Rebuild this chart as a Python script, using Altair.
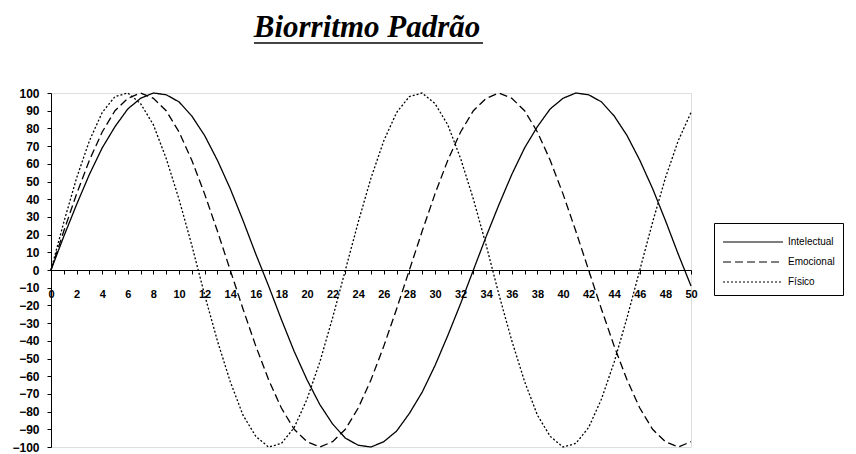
import altair as alt
import pandas as pd

days = list(range(51))
series_names = ["Intelectual", "Emocional", "Físico"]
title_text = "Biorritmo Padrão"

intelectual = [0, 19, 37, 54, 69, 81, 91, 97, 100, 99, 95, 87, 76, 62, 46, 28, 9,
               -9, -28, -46, -62, -76, -87, -95, -99, -100, -97, -91, -81, -69, -54, -37, -19,
               0, 19, 37, 54, 69, 81, 91, 97, 100, 99, 95, 87, 76, 62, 46, 28, 9, -9]
emocional = [0, 22, 43, 62, 78, 90, 97, 100, 97, 90, 78, 62, 43, 22,
             0, -22, -43, -62, -78, -90, -97, -100, -97, -90, -78, -62, -43, -22,
             0, 22, 43, 62, 78, 90, 97, 100, 97, 90, 78, 62, 43, 22,
             0, -22, -43, -62, -78, -90, -97, -100, -97]
fisico = [0, 27, 52, 73, 89, 98, 100, 94, 82, 63, 40, 14,
          -14, -40, -63, -82, -94, -100, -98, -89, -73, -52, -27,
          0, 27, 52, 73, 89, 98, 100, 94, 82, 63, 40, 14,
          -14, -40, -63, -82, -94, -100, -98, -89, -73, -52, -27,
          0, 27, 52, 73, 89]

rows = []
for name, vals in zip(series_names, [intelectual, emocional, fisico]):
    for d, v in zip(days, vals):
        rows.append({"dia": d, "valor": v, "serie": name})
df = pd.DataFrame(rows)

W, H = 640, 354
FONT = "Liberation Sans"

lines = alt.Chart(df).mark_line(color="black", strokeWidth=1.3).encode(
    x=alt.X("dia:Q", title=None,
            scale=alt.Scale(domain=[0, 50], nice=False, zero=False),
            axis=alt.Axis(values=days, offset=-H / 2, grid=False,
                          labelExpr="datum.value % 2 == 0 ? datum.label : ''",
                          tickSize=4, tickColor="black", domainColor="black",
                          labelPadding=14, labelFont=FONT, labelFontSize=11,
                          labelFontWeight="bold", labelColor="black",
                          labelOverlap=False, labelFlush=False)),
    y=alt.Y("valor:Q", title=None,
            scale=alt.Scale(domain=[-100, 100], nice=False),
            axis=alt.Axis(values=list(range(-100, 101, 10)), grid=False,
                          tickSize=4, tickColor="black", domainColor="black",
                          labelPadding=8, labelFont=FONT, labelFontSize=12,
                          labelFontWeight="bold", labelColor="black",
                          labelOverlap=False)),
    strokeDash=alt.StrokeDash(
        "serie:N",
        scale=alt.Scale(domain=series_names, range=[[1, 0], [8, 4], [2, 2]]),
        legend=alt.Legend(title=None, orient="none", legendX=663, legendY=130,
                          symbolType="M-1,0H5", symbolSize=400,
                          symbolStrokeColor="black", symbolStrokeWidth=1.2,
                          labelFont=FONT, labelFontSize=10, labelColor="black",
                          strokeColor="black", fillColor="white", padding=8,
                          rowPadding=4, labelOffset=44)),
    detail="serie:N",
)

title = alt.Chart(pd.DataFrame({"t": [title_text]})).mark_text(
    font="Liberation Serif", fontSize=31, fontStyle="italic", fontWeight="bold",
    color="black", align="center", baseline="alphabetic"
).encode(text="t:N", x=alt.value(316), y=alt.value(-56))

underline = alt.Chart(pd.DataFrame({"k": [0]})).mark_rule(color="#444", strokeWidth=2).encode(
    x=alt.value(203), x2=alt.value(432), y=alt.value(-50)
)

chart = alt.layer(lines, title, underline).properties(
    width=W, height=H,
    padding={"left": 3, "top": 4, "right": 0, "bottom": 0},
).configure_view(stroke="transparent", strokeWidth=0).configure(background="white")

chart.save("out.html", embed_options={"renderer": "svg", "actions": False})
